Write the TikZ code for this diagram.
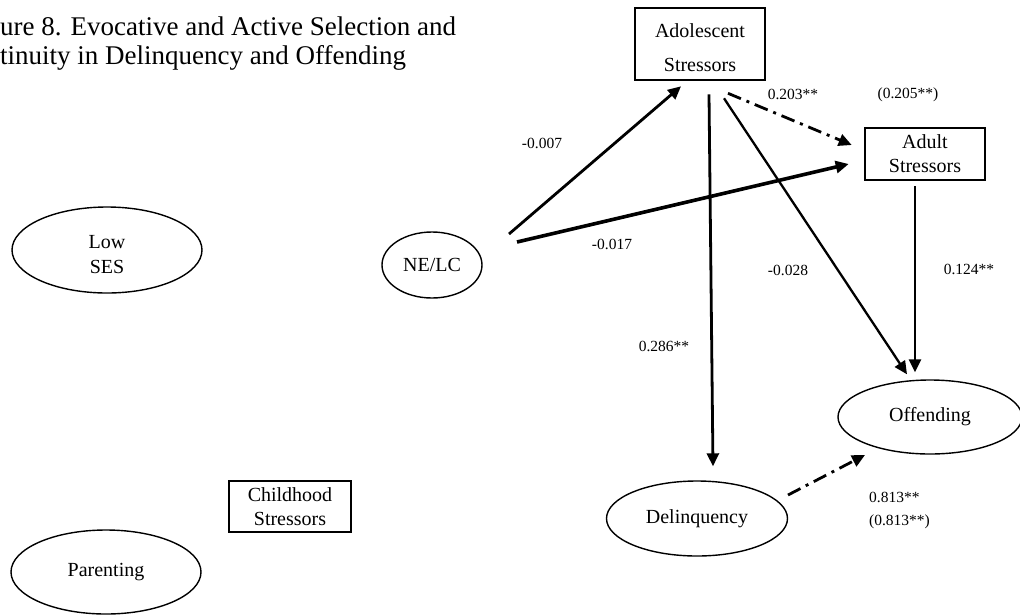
\documentclass[tikz,border=0pt]{standalone}
\usepackage{fontspec}
\setmainfont{Liberation Serif}
\usetikzlibrary{arrows.meta,shapes.geometric}
\begin{document}
\begin{tikzpicture}[x=1pt,y=-1pt,
  box/.style={draw,line width=2.6pt,inner sep=0pt,align=center},
  oval/.style={draw,ellipse,line width=1.4pt,inner sep=0pt,align=center},
  label text/.style={inner sep=0pt,align=center},
  coef/.style={font=\fontsize{15.5}{25}\selectfont,inner sep=0pt},
  arr/.style={-{Triangle[length=13pt,width=12pt]},line width=2.8pt},
  dashdot/.style={dash pattern=on 14pt off 6pt on 3pt off 6pt}
]
\useasboundingbox (0,0) rectangle (1020,614);

% title
\node[anchor=base west,inner sep=0pt,font=\fontsize{27}{29}\selectfont] (t1) at (0,35) {ure 8. Evocative and Active Selection and};
\node[anchor=base west,inner sep=0pt,font=\fontsize{27}{29}\selectfont] (t2) at (0,64) {tinuity in Delinquency and Offending};

% constructs
\node[box,minimum width=130,minimum height=72] (adol) at (700,44) {};
\node[label text,font=\fontsize{20}{34}\selectfont] (adoltext) at ([yshift=-4pt]adol.center) {Adolescent\\Stressors};
\node[box,minimum width=120,minimum height=52,font=\fontsize{20}{24}\selectfont] (adult) at (925,154) {Adult\\Stressors};
\node[box,minimum width=122,minimum height=51,font=\fontsize{20}{24}\selectfont] (child) at (290,506.5) {Childhood\\Stressors};
\node[oval,minimum width=190,minimum height=86] (ses) at (107,250) {};
\node[label text,font=\fontsize{20}{25}\selectfont] (sestext) at ([yshift=-5pt]ses.center) {Low\\SES};
\node[oval,minimum width=100,minimum height=66,font=\fontsize{20}{25}\selectfont] (nelc) at (432,265) {NE/LC};
\node[oval,minimum width=190,minimum height=84,font=\fontsize{20}{25}\selectfont] (par) at (106,572) {Parenting};
\node[oval,minimum width=184,minimum height=74,font=\fontsize{20}{25}\selectfont] (off) at (930,417) {Offending};
\node[oval,minimum width=181,minimum height=75,font=\fontsize{20}{25}\selectfont] (del) at (697,518.5) {Delinquency};

% paths
\draw[arr] ([shift={(77,-31)}]nelc.center) -- ([shift={(-19,5)}]adol.south);
\draw[arr,line width=3.6pt] ([shift={(85,-23)}]nelc.center) -- ([shift={(-15,10)}]adult.west);
\draw[arr,dashdot] ([shift={(28,12)}]adol.south) -- ([shift={(-12,-9)}]adult.west);
\draw[arr] ([shift={(9,13)}]adol.south) -- ([shift={(16,-14)}]del.north);
\draw[arr,line width=2.3pt] ([shift={(24,17)}]adol.south) -- ([shift={(-23,-5)}]off.north);
\draw[arr] ([shift={(-10,5)}]adult.south) -- ([shift={(-15,-7)}]off.north);
\draw[arr,dashdot] ([shift={(91,-23.5)}]del.center) -- ([shift={(-65,38)}]off.center);

% coefficients
\node[coef] (c1) at (542,143) {-0.007};
\node[coef] (c2) at (793,94) {0.203**};
\node[coef] (c3) at (908,95) {(0.205**)};
\node[coef] (c4) at (612,244) {-0.017};
\node[coef] (c5) at (788,270) {-0.028};
\node[coef] (c6) at (969,269) {0.124**};
\node[coef] (c7) at (664,346) {0.286**};
\node[coef,anchor=west] (c8) at (869,497) {0.813**};
\node[coef,anchor=west] (c9) at (869,522) {(0.813**)};
\end{tikzpicture}
\end{document}
